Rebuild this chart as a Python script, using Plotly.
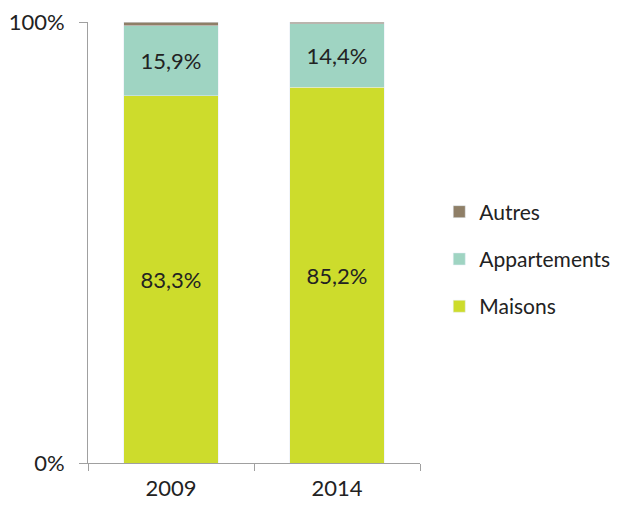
import plotly.graph_objects as go

years = ["2009", "2014"]
maisons = [83.3, 85.2]
appartements = [15.9, 14.4]
autres = [0.8, 0.4]
maisons_labels = ["83,3%", "85,2%"]
appart_labels = ["15,9%", "14,4%"]
y_tick_vals = [0, 100]
y_tick_text = ["0%", "100%"]

font_family = "Lato, Open Sans, sans-serif"
FS = 22

fig = go.Figure()
fig.add_trace(go.Bar(x=years, y=maisons, name="Maisons", marker_color="#cddc2c",
                     text=maisons_labels, textposition="inside", insidetextanchor="middle",
                     textfont=dict(size=FS, color="#222222"), legendgroup="m", legendrank=3,
                     hoverinfo="skip"))
fig.add_trace(go.Bar(x=years, y=appartements, name="Appartements", marker_color="#9fd4c2",
                     text=appart_labels, textposition="inside", insidetextanchor="middle",
                     textfont=dict(size=FS, color="#222222"), legendgroup="a", legendrank=2,
                     hoverinfo="skip"))
fig.add_trace(go.Bar(x=years, y=autres, name="Autres", marker_color="#8f7f67",
                     legendgroup="o", legendrank=1, hoverinfo="skip"))

fig.update_layout(
    barmode="stack",
    bargap=0.43,
    width=625, height=505,
    margin=dict(l=80, r=213, t=14, b=50, autoexpand=False),
    paper_bgcolor="white", plot_bgcolor="white",
    font=dict(family=font_family, size=FS, color="#222222"),
    uniformtext=dict(minsize=FS, mode="show"),
    legend=dict(x=1.058, y=0.4626, xanchor="left", yanchor="middle",
                traceorder="grouped", tracegroupgap=17,
                font=dict(size=21), itemwidth=30),
    showlegend=True,
)
fig.update_xaxes(type="category", showline=True, linecolor="#a0a0a0", linewidth=1,
                 ticks="outside", tickson="boundaries", ticklen=7, tickcolor="#a0a0a0",
                 showgrid=False, tickfont=dict(size=FS), automargin=False,
                 ticklabelstandoff=6, ticklabeloverflow="allow")
fig.update_yaxes(range=[0, 100], tickvals=y_tick_vals, ticktext=y_tick_text,
                 showline=True, linecolor="#a0a0a0", linewidth=1,
                 ticks="outside", ticklen=8, tickcolor="#a0a0a0",
                 showgrid=False, zeroline=False, tickfont=dict(size=FS), automargin=False,
                 ticklabelstandoff=10, ticklabeloverflow="allow")

fig.write_html("out.html")
